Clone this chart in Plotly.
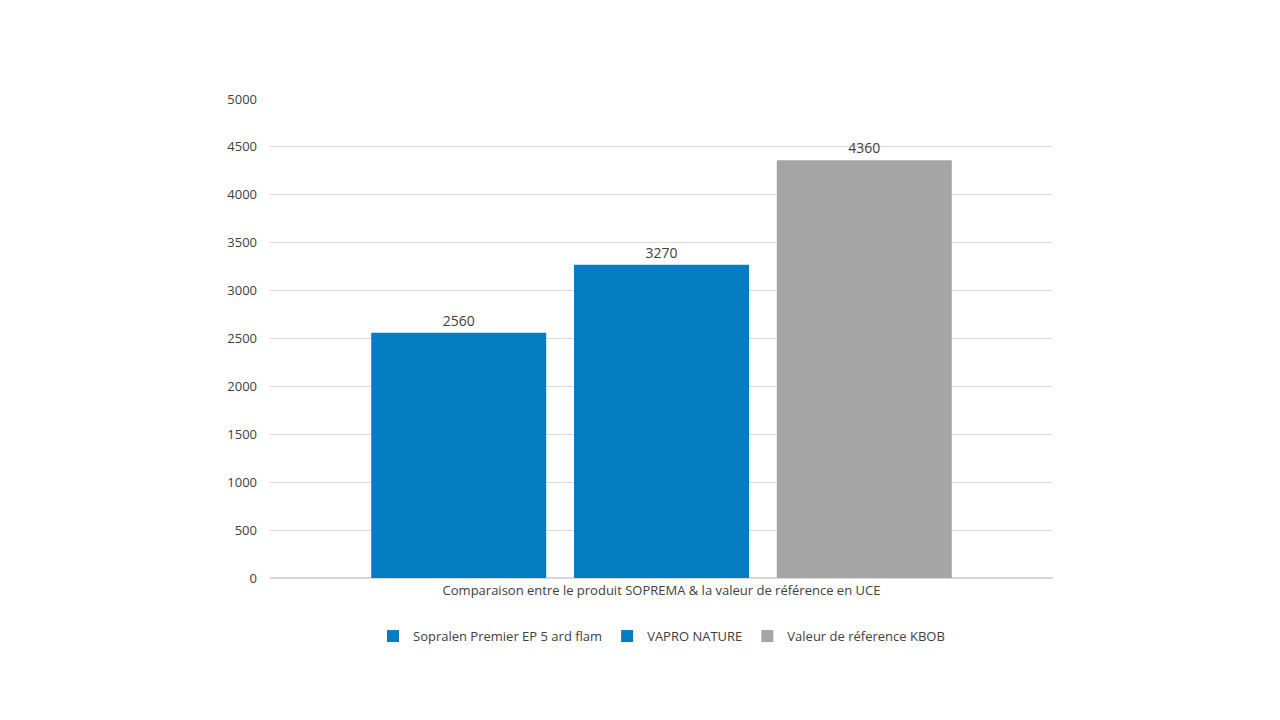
import plotly.graph_objects as go

category = ["Comparaison entre le produit SOPREMA & la valeur de référence en UCE"]
series_names = ["Sopralen Premier EP 5 ard flam", "VAPRO NATURE", "Valeur de réference KBOB"]
series_values = [2560, 3270, 4360]
series_colors = ["#067dc3", "#067dc3", "#a5a5a5"]

fig = go.Figure()
for name, val, col in zip(series_names, series_values, series_colors):
    fig.add_trace(go.Bar(
        x=category, y=[val], name=name,
        marker=dict(color=col, line=dict(width=0)),
        text=[str(val)], textposition="outside",
        textfont=dict(size=14, color="#404040"),
        cliponaxis=False,
    ))

fig.update_layout(
    width=1280, height=720,
    paper_bgcolor="white", plot_bgcolor="white",
    font=dict(family="Open Sans, Liberation Sans, sans-serif", size=13, color="#404040"),
    margin=dict(l=262, r=235, t=91, b=150),
    barmode="group", bargap=0.223, bargroupgap=0.137,
    showlegend=True,
    legend=dict(orientation="h", x=0.5, xanchor="center", y=-0.09, yanchor="top",
                font=dict(size=13, color="#404040"), itemwidth=30),
    yaxis=dict(range=[0, 5000], dtick=500, gridcolor="#d9d9d9", showline=False,
               zeroline=True, zerolinecolor="#d9d9d9", ticks="", ticklabelstandoff=12,
               tickfont=dict(size=13, color="#404040")),
    xaxis=dict(showline=True, linecolor="#d9d9d9", ticks="",
               tickfont=dict(size=13, color="#404040")),
)

fig.write_html("out.html")
